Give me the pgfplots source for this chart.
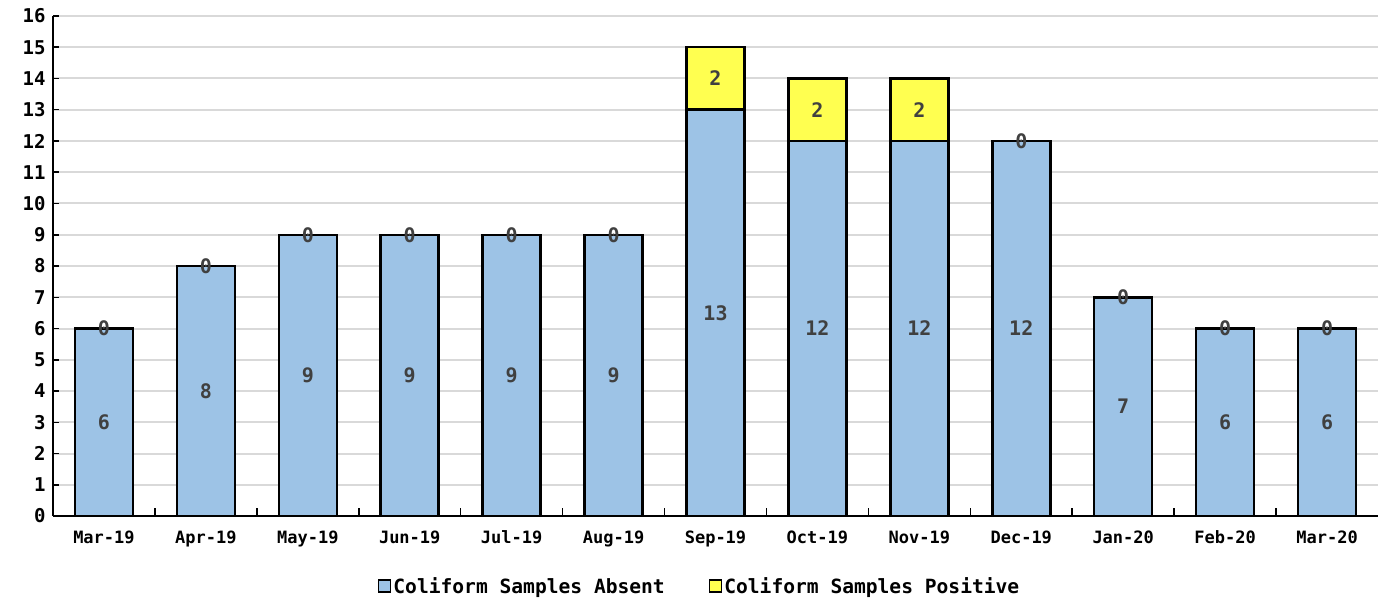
\documentclass[border=0pt]{standalone}
\usepackage{fontspec}
\setmainfont{DejaVu Sans Mono}
\setmonofont{DejaVu Sans Mono}
\usepackage{pgfplots}
\usepackage{pgfplotstable}
\pgfplotsset{compat=1.18}

\definecolor{absentblue}{HTML}{9DC3E6}
\definecolor{posyellow}{HTML}{FFFF50}
\definecolor{labelgray}{HTML}{404040}
\definecolor{gridgray}{HTML}{D9D9D9}

\pgfplotstableread{
x absent positive
0  6  0
1  8  0
2  9  0
3  9  0
4  9  0
5  9  0
6  13 2
7  12 2
8  12 2
9  12 0
10 7  0
11 6  0
12 6  0
}\coliform

\begin{document}
\begin{tikzpicture}
\begin{axis}[
    /pgf/number format/assume math mode=true,
    font=\bfseries,
    scale only axis,
    width=1325bp, height=500bp,
    xmin=-0.5, xmax=12.5,
    ymin=0, ymax=16,
    ytick={0,1,...,16},
    xtick={0,1,...,12},
    xticklabels={Mar-19,Apr-19,May-19,Jun-19,Jul-19,Aug-19,Sep-19,Oct-19,Nov-19,Dec-19,Jan-20,Feb-20,Mar-20},
    minor xtick={0.5,1.5,...,11.5},
    major x tick style={draw=none},
    minor x tick style={black, line width=1.5bp},
    minor tick length=8bp,
    major tick length=6bp,
    y tick style={black, line width=1.5bp},
    tick align=inside,
    axis x line*=bottom,
    axis y line*=left,
    axis line style={-, black, line width=2.5bp},
    ymajorgrids=true,
    major grid style={draw=gridgray, line width=2bp},
    xticklabel style={font=\fontsize{17bp}{20bp}\selectfont\bfseries, yshift=-11bp},
    yticklabel style={font=\fontsize{19bp}{22bp}\selectfont\bfseries, xshift=-4bp},
    legend style={at={(0.488,-0.14)}, anchor=center, draw=none,
        font=\fontsize{19.6bp}{22bp}\selectfont\bfseries,
        /tikz/every even column/.append style={column sep=42bp}},
    legend columns=2,
    legend image code/.code={\draw[#1, draw=black, line width=1.5bp] (0bp,-6bp) rectangle (12bp,6bp);},
    labels/.style={draw=none, mark=none, forget plot, point meta=explicit,
        nodes near coords,
        every node near coord/.append style={anchor=center,
            font=\fontsize{20bp}{24bp}\selectfont\bfseries, text=labelgray}},
    bars/.style={ybar, bar width=58bp, bar shift=0pt, draw=black, line width=2.5bp, forget plot},
]
\addlegendimage{fill=absentblue}
\addlegendentry{Coliform Samples Absent}
\addlegendimage{fill=posyellow}
\addlegendentry{Coliform Samples Positive}
% total height in yellow, absent part drawn over it in blue
\addplot[bars, fill=posyellow]
    table[x=x, y expr=\thisrow{absent}+\thisrow{positive}] {\coliform};
\addplot[bars, fill=absentblue]
    table[x=x, y=absent] {\coliform};
% segment labels
\addplot[labels]
    table[x=x, y expr=\thisrow{absent}/2, meta=absent] {\coliform};
\addplot[labels]
    table[x=x, y expr=\thisrow{absent}+\thisrow{positive}/2, meta=positive] {\coliform};
\end{axis}
\pgfresetboundingbox
\path[use as bounding box] ([xshift=-53bp,yshift=-83bp]current axis.south west) rectangle ([xshift=9bp,yshift=16bp]current axis.north east);
\end{tikzpicture}
\end{document}
